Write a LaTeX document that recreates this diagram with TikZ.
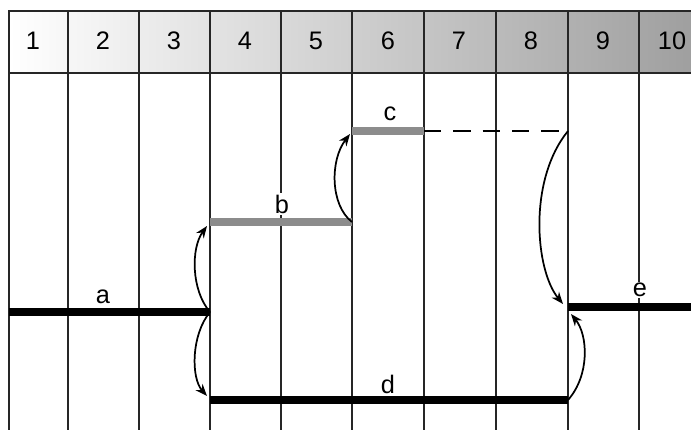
\documentclass[tikz,border=0pt]{standalone}
\usepackage{fontspec}
\setmainfont{Liberation Sans}
\usetikzlibrary{arrows.meta}
\begin{document}
\begin{tikzpicture}[x=0.75pt,y=-0.75pt,
  gridline/.style={line width=1.25pt, draw=black!85},
  blackbar/.style={line width=6pt, draw=black},
  graybar/.style={line width=6.5pt, draw=black!45},
  dashline/.style={line width=1.3pt, dash pattern=on 13pt off 9pt},
  link/.style={line width=1.3pt, -{Stealth[length=9pt,width=7pt]}},
  lbl/.style={font=\fontsize{19}{19}\selectfont, inner sep=1pt},
  hdr/.style={font=\fontsize{19}{19}\selectfont, inner sep=0pt}]
\useasboundingbox (0,0) rectangle (691,429);
\fill[white] (0,0) rectangle (691,429);
% header band
\shade[left color=white, right color=black!38] (9,11) rectangle (700,73);
% frame and grid
\draw[gridline] (700,11) -- (9,11) -- (9,440);
\draw[gridline] (9,73) -- (700,73);
\foreach \x in {68,139,210,281,352,424,496,568,639}
  \draw[gridline] (\x,11) -- (\x,440);
% header numbers
\foreach \x/\n in {33/1,103/2,174/3,245/4,316/5,388/6,459/7,531/8,603/9,672/10}
  \node[hdr] (h\n) at (\x,41) {\n};
% bar ends
\coordinate (a1) at (9,312);   \coordinate (a2) at (210,312);
\coordinate (b1) at (210,222); \coordinate (b2) at (352,222);
\coordinate (c1) at (352,131); \coordinate (c2) at (424,131);
\coordinate (c3) at (568,131);
\coordinate (d1) at (210,400); \coordinate (d2) at (568,400);
\coordinate (e1) at (568,307); \coordinate (e2) at (700,307);
% bars
\draw[blackbar] (a1) -- (a2);
\draw[graybar] (b1) -- (b2);
\draw[graybar] (c1) -- (c2);
\draw[dashline] (c2) -- (c3);
\draw[blackbar] (d1) -- (d2);
\draw[blackbar] (e1) -- (e2);
% labels
\node[lbl] (la) at (103,297) {a};
\node[lbl, fill=white] (lb) at (282,204) {b};
\node[lbl] (lc) at (390,114) {c};
\node[lbl] (ld) at (388,384) {d};
\node[lbl, fill=white] (le) at (640,290) {e};
% arrows
\coordinate (t1) at (207,226);
\coordinate (t2) at (207,396);
\coordinate (t3) at (350,134);
\coordinate (t4) at (563,304);
\coordinate (t5) at (571,314);
\draw[link] (a2) .. controls (191,290) and (191,248) .. (t1);
\draw[link] (a2) .. controls (191,335) and (191,378) .. (t2);
\draw[link] (b2) .. controls (330,205) and (330,160) .. (t3);
\draw[link] (c3) .. controls (528,180) and (535,270) .. (t4);
\draw[link] (d2) .. controls (590,375) and (588,335) .. (t5);
\end{tikzpicture}
\end{document}
